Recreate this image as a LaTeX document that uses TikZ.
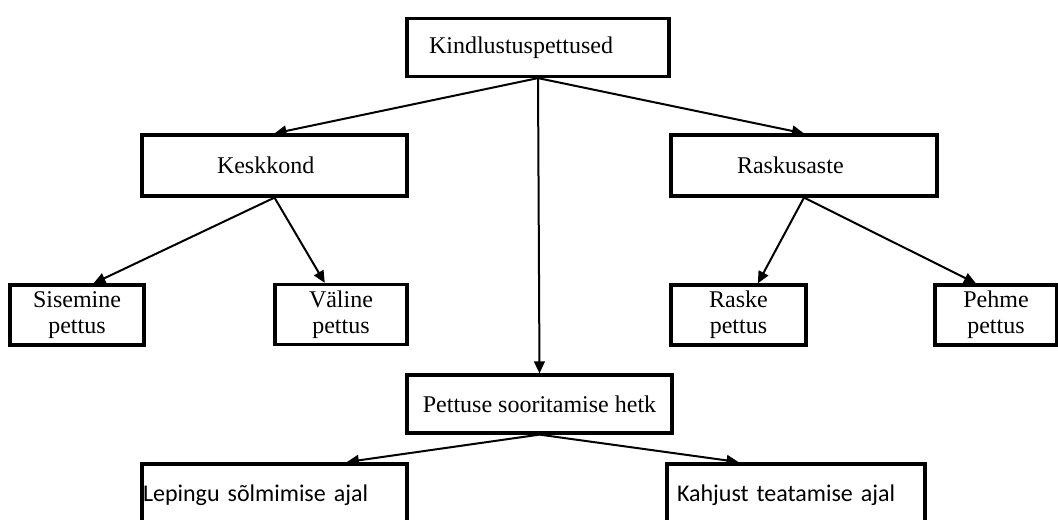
\documentclass[tikz,border=0pt]{standalone}
\usepackage{fontspec}
\setmainfont{Liberation Serif}
\newfontfamily\calfont{Carlito}
\usetikzlibrary{arrows.meta, calc}
\tikzset{
  cbox/.style={draw, line width=2.4pt, inner sep=0pt, align=center,
               font=\fontsize{18}{19.5}\selectfont},
  cleaf/.style={cbox, minimum height=45pt},
  cwide/.style={cbox, align=left, font=\calfont\fontsize{18}{19}\selectfont,
                minimum height=46.5pt},
  carrow/.style={line width=1.5pt, -{Triangle[length=9pt, width=8pt]}},
}

\begin{document}
\begin{tikzpicture}[x=0.75pt, y=-0.75pt]
    \useasboundingbox (0,0) rectangle (1058,519);
    \clip (0,0) rectangle (1058,519);
    % top level
    \node[cbox, minimum width=196.5pt, minimum height=43.5pt,
          text width=163.5pt, align=left] (kind) at (538,47.5) {Kindlustuspettused};
    % second level
    \node[cbox, minimum width=198.75pt, minimum height=45.75pt,
          text width=86.25pt, align=left] (kesk) at (274.5,165.5) {Keskkond};
    \node[cbox, minimum width=199.5pt, minimum height=45.75pt,
          text width=100.5pt, align=left] (rask) at (804,165.5) {Raskusaste};
    % leaves
    \node[cleaf, minimum width=100.5pt]  (sis)   at (77,315)    {Sisemine\\pettus};
    \node[cleaf, minimum width=99pt]     (val)   at (341,314.5) {Väline\\pettus};
    \node[cleaf, minimum width=101.25pt] (raske) at (738.5,315) {Raske\\pettus};
    \node[cleaf, minimum width=91.5pt]   (pehme) at (996,315)   {Pehme\\pettus};
    \node[cbox, minimum width=198.75pt, minimum height=43.5pt]
          (pet) at (539.5,404) {Pettuse sooritamise hetk};
    \node[cwide, minimum width=198.75pt, text width=197.25pt]
          (lep) at (274.5,495) {Lepingu sõlmimise ajal};
    \node[cwide, minimum width=193.5pt, text width=178.5pt]
          (kah) at (796,495) {Kahjust teatamise ajal};
    % connectors
    \draw[carrow] (kind.south) -- (kesk.north);
    \draw[carrow] (kind.south) -- (rask.north);
    \draw[carrow] (kind.south) -- (pet.north);
    \draw[carrow] (kesk.south) -- ($(sis.north west)!0.62!(sis.north east)$);
    \draw[carrow] (kesk.south) -- ($(val.north west)!0.38!(val.north east)$);
    \draw[carrow] (rask.south) -- ($(raske.north west)!0.64!(raske.north east)$);
    \draw[carrow] (rask.south) -- ($(pehme.north west)!0.34!(pehme.north east)$);
    \draw[carrow, shorten >=2pt] (pet.south) -- ($(lep.north west)!0.76!(lep.north east)$);
    \draw[carrow, shorten >=2pt] (pet.south) -- ($(kah.north west)!0.29!(kah.north east)$);
\end{tikzpicture}
\end{document}
